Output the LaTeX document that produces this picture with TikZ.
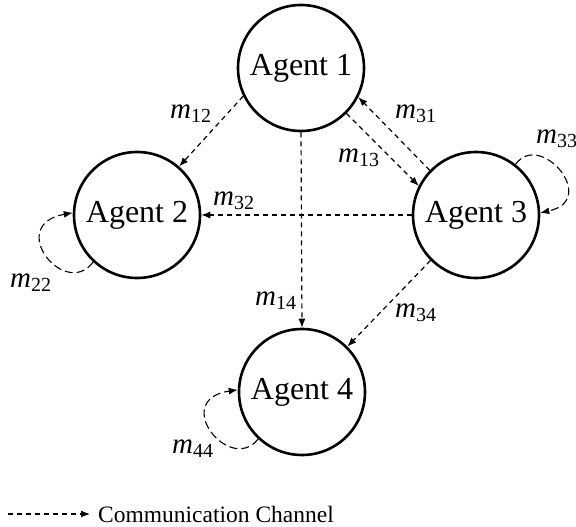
\documentclass[tikz,border=0pt]{standalone}
\usepackage{fontspec}
\setmainfont{Liberation Serif}
\usetikzlibrary{arrows.meta}
\newcommand\mlab[1]{\textit{m}\raisebox{-0.16em}{\fontsize{20}{20}\selectfont #1}}
\begin{document}
\begin{tikzpicture}[x=1pt,y=-1pt,
  agent/.style={circle,draw,line width=2.6pt,minimum size=126pt,inner sep=0pt,font=\fontsize{32}{32}\selectfont},
  msg/.style={dash pattern=on 5pt off 4pt,line width=1.2pt,-{Latex[length=9pt,width=7pt]}},
  selfmsg/.style={dash pattern=on 8pt off 4pt,line width=1.1pt,-{Latex[length=9pt,width=7pt]}},
  lab/.style={inner sep=0pt,anchor=base west,font=\fontsize{29}{29}\selectfont}]
\useasboundingbox (0,0) rectangle (576,527);
\node[agent] (A1) at (301,68) {Agent 1};
\node[agent] (A2) at (137,215) {Agent 2};
\node[agent] (A3) at (476,215) {Agent 3};
\node[agent] (A4) at (302,392) {Agent 4};
% edges
\draw[msg] (A1.206) -- (A2.49);
\draw[msg] (A1.315) -- (A3.153);
\draw[msg] (A3.136) -- (A1.333);
\draw[msg] (A3.west) -- (A2.east);
\draw[msg] (A1.south) -- (A4.north);
\draw[msg] (A3.225) -- (A4.45);
% self loops
\draw[selfmsg] (A2.227) .. controls (65,300) and (5,225) .. (A2.178);
\draw[selfmsg] (A3.52) .. controls (540,130) and (600,200) .. (A3.2);
\draw[selfmsg] (A4.227) .. controls (230,475) and (170,400) .. (A4.178);
% labels
\node[lab] (l12) at (170,118) {\mlab{12}};
\node[lab] (l31) at (395,118) {\mlab{31}};
\node[lab] (l13) at (338,162) {\mlab{13}};
\node[lab] (l33) at (536,143) {\mlab{33}};
\node[lab] (l32) at (213,205) {\mlab{32}};
\node[lab] (l22) at (10,287) {\mlab{22}};
\node[lab] (l14) at (255,305) {\mlab{14}};
\node[lab] (l34) at (395,317) {\mlab{34}};
\node[lab] (l44) at (172,453) {\mlab{44}};
% legend
\coordinate (L1) at (8,514);
\coordinate (L2) at (90,514);
\draw[msg] (L1) -- (L2);
\node[anchor=west,inner sep=0pt,font=\fontsize{23.5}{23.5}\selectfont] (leg) at (98,514) {Communication Channel};
\end{tikzpicture}
\end{document}
